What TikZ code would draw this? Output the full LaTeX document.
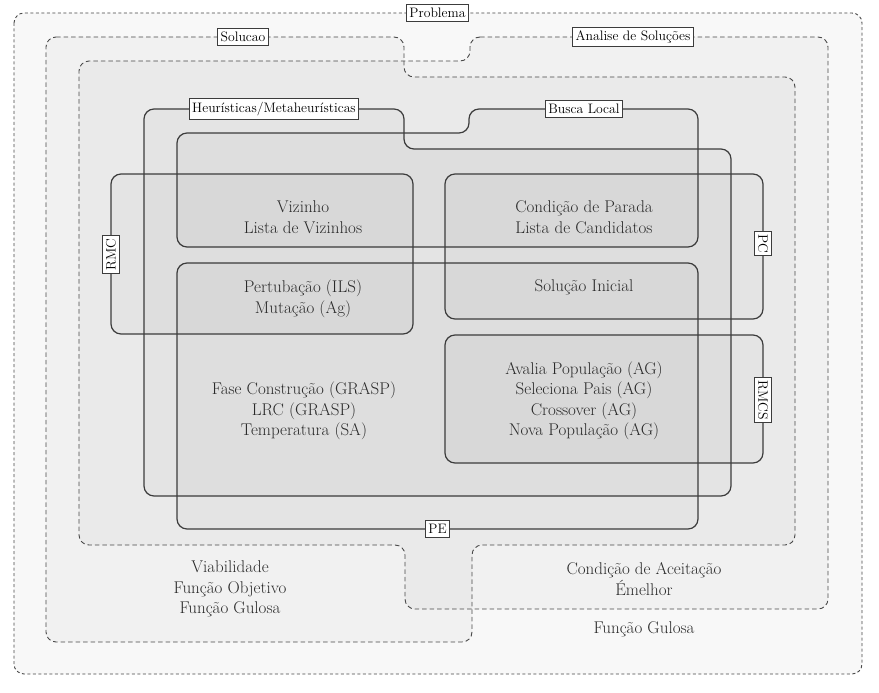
\documentclass[tikz,border=0pt]{standalone}
\usepackage{fontspec}
\usetikzlibrary{positioning}
\definecolor{lineC}{HTML}{3C3C3C}
\definecolor{dashC}{HTML}{484848}
\definecolor{txtC}{HTML}{2A2A2A}
\tikzset{
  regionfill/.style={fill=black, fill opacity=0.026},
  solidreg/.style={regionfill, draw=lineC, line width=1.2pt, rounded corners=10pt},
  dashreg/.style={regionfill, draw=dashC, line width=0.9pt, dash pattern=on 4.5pt off 3pt, rounded corners=10pt},
  outerreg/.style={regionfill, draw=dashC, line width=0.9pt, dash pattern=on 3pt off 2.5pt, rounded corners=10pt},
  lbl/.style={draw=lineC, line width=0.9pt, fill=white, text=black, inner xsep=3pt, inner ysep=3.5pt, font=\fontsize{13.7}{16}\selectfont},
  body/.style={align=center, text=txtC, font=\fontsize{17}{20.5}\selectfont, inner sep=0pt}
}
\begin{document}
\begin{tikzpicture}[x=1pt,y=-1pt]
\useasboundingbox (0,0) rectangle (879,693);
% outer Problema
\path[outerreg] (14,13) rectangle (862,674);
% Solucao
\path[dashreg] (46,37) -- (404,37) -- (404,77) -- (795,77) -- (795,545) -- (472,545) -- (472,642) -- (46,642) -- cycle;
% Analise de Solucoes
\path[dashreg] (470,37) -- (828,37) -- (828,609) -- (405,609) -- (405,545) -- (79,545) -- (79,61) -- (470,61) -- cycle;
% Heuristicas
\path[solidreg] (144,109) -- (404,109) -- (404,149) -- (731,149) -- (731,496) -- (144,496) -- cycle;
% Busca Local
\path[solidreg] (177,133) -- (469,133) -- (469,109) -- (698,109) -- (698,247) -- (177,247) -- cycle;
% PE
\path[solidreg] (177,263) rectangle (698,529);
% RMC
\path[solidreg] (111,174) rectangle (413,334);
% PC
\path[solidreg] (445,174) rectangle (763,319);
% RMCS
\path[solidreg] (445,335) rectangle (763,463);

% labels
\node[lbl] (problema) at (437.5,13) {Problema};
\node[lbl] (solucao) at (243,37) {Solucao};
\node[lbl] (analise) at (633,37) {Analise de Soluções};
\node[lbl] (heur) at (274,109) {Heurísticas/Metaheurísticas};
\node[lbl] (busca) at (584,109) {Busca Local};
\node[lbl] (pe) at (437.5,529) {PE};
\node[lbl, rotate=90] (rmc) at (111,254.5) {RMC};
\node[lbl, rotate=-90] (pc) at (763,243.5) {PC};
\node[lbl, rotate=-90] (rmcs) at (763,400) {RMCS};

% body texts
\node[body] (viz) at (303,217) {Vizinho\\Lista de Vizinhos};
\node[body] (cond) at (584,217) {Condição de Parada\\Lista de Candidatos};
\node[body] (pert) at (303,299) {Pertubação (ILS)\\Mutação (Ag)};
\node[body] (solini) at (584,287) {Solução Inicial};
\node[body] (aval) at (584,401) {Avalia População (AG)\\Seleciona Pais (AG)\\Crossover (AG)\\Nova População (AG)};
\node[body] (fase) at (304,411) {Fase Construção (GRASP)\\LRC (GRASP)\\Temperatura (SA)};
\node[body] (viab) at (230,589) {Viabilidade\\Função Objetivo\\Função Gulosa};
\node[body] (aceit) at (644,579) {Condição de Aceitação\\Émelhor};
\node[body] (gulosa) at (644,629) {Função Gulosa};
\end{tikzpicture}
\end{document}
